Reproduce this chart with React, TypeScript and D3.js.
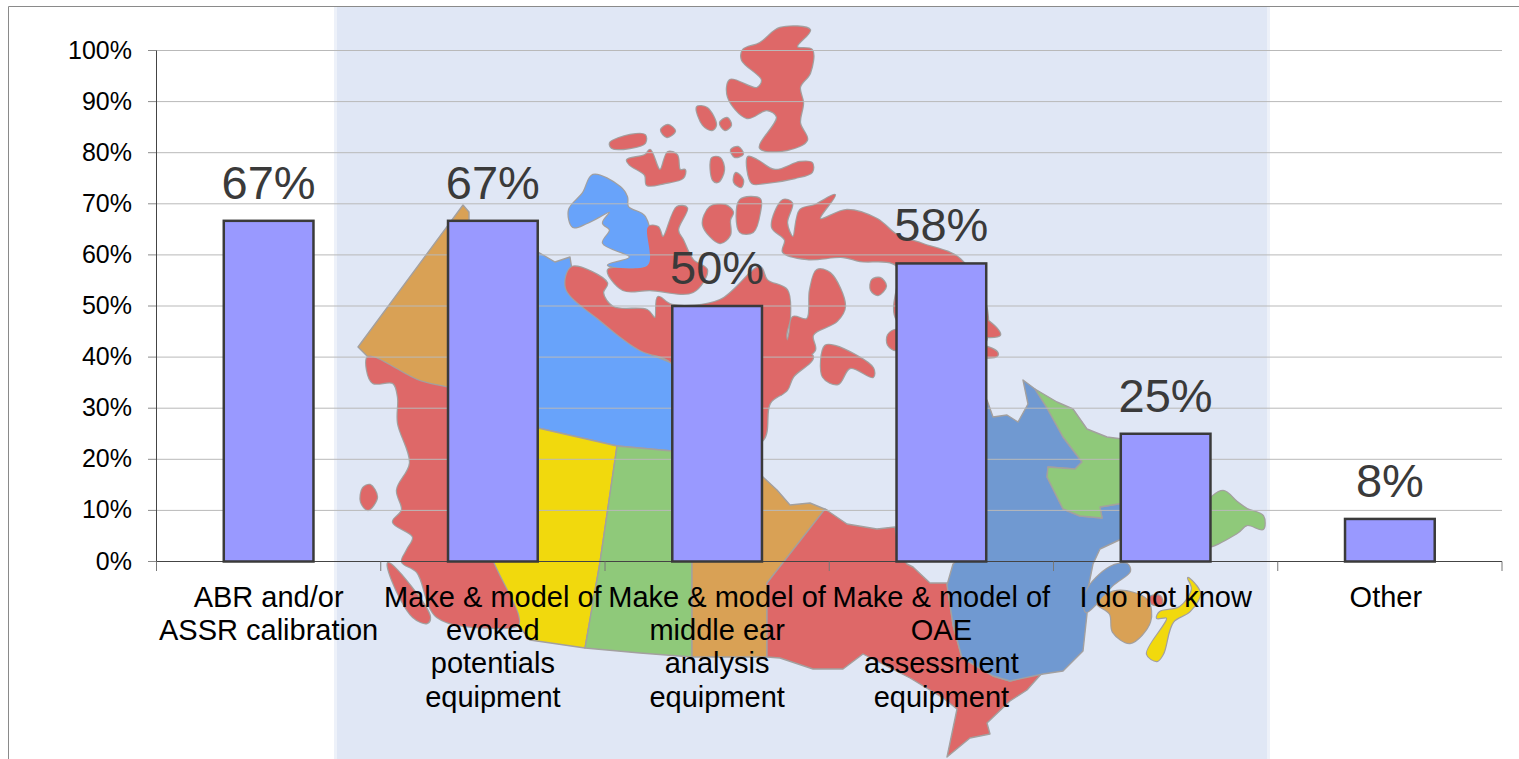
import React from "react";
import * as d3 from "d3";

const categories = [
  "ABR and/or|ASSR calibration",
  "Make & model of|evoked|potentials|equipment",
  "Make & model of|middle ear|analysis|equipment",
  "Make & model of|OAE|assessment|equipment",
  "I do not know",
  "Other",
];
const values = [66.67, 66.67, 50, 58.33, 25, 8.33];
const valueLabels = ["67%", "67%", "50%", "58%", "25%", "8%"];
const yTicks = [0, 10, 20, 30, 40, 50, 60, 70, 80, 90, 100];

type P = [number, number];
const RED = "#de6868", ORANGE = "#d9a155", BLUE = "#67a3fa", STEEL = "#7099d1", GREEN = "#8fc97a", YELLOW = "#f1d90f";

// decorative backdrop: provinces (straight borders) and islands (rounded outlines)
const provinces: { c: string; p: P[] }[] = [
  { c: ORANGE, p: [[463,205],[469,212],[470,400],[447,393],[417,380],[368,357],[358,347]] },
  { c: BLUE, p: [[480,230],[538,252],[555,262],[570,257],[572,270],[566,288],[600,320],[640,350],[672,363],[730,395],[730,455],[672,451],[617,446],[538,428],[480,410]] },
  { c: YELLOW, p: [[500,415],[538,428],[617,446],[600,562],[585,648],[530,640],[518,625],[518,615],[493,562],[490,530]] },
  { c: GREEN, p: [[617,446],[672,451],[710,455],[692,550],[692,657],[640,653],[585,648],[600,562]] },
  { c: ORANGE, p: [[720,460],[763,477],[777,490],[790,505],[810,503],[827,510],[767,583],[767,657],[692,657],[692,550]] },
  { c: RED, p: [[825,509],[847,524],[877,529],[895,527],[900,555],[907,564],[913,567],[930,583],[947,583],[953,625],[962,658],[993,676],[1010,681],[1043,672],[1027,690],[1010,701],[987,723],[990,734],[970,738],[947,757],[957,709],[943,698],[910,678],[863,654],[843,669],[813,669],[780,658],[767,657],[767,583]] },
  { c: STEEL, p: [[960,400],[987,400],[993,417],[1007,415],[1018,422],[1028,404],[1023,380],[1035,389],[1047,408],[1063,437],[1082,462],[1075,469],[1048,467],[1047,477],[1063,509],[1080,516],[1102,518],[1100,507],[1130,502],[1130,535],[1100,549],[1093,564],[1088,589],[1087,614],[1083,651],[1063,671],[1043,674],[1010,681],[993,676],[962,658],[953,625],[947,585],[953,564],[960,558]] },
  { c: GREEN, p: [[1035,389],[1057,402],[1073,409],[1087,429],[1107,437],[1130,440],[1130,502],[1100,507],[1102,518],[1080,516],[1063,509],[1047,477],[1048,467],[1075,469],[1082,462],[1063,437],[1047,408]] },
];
const islands: { c: string; p: P[] }[] = [
  { c: BLUE, p: [[593,175],[620,187],[627,197],[628,207],[645,217],[648,265],[608,265],[630,257],[603,243],[610,230],[603,223],[610,212],[587,223],[573,227],[569,210],[583,193]] },
  { c: RED, p: [[648,227],[658,227],[663,237],[677,207],[687,208],[678,230],[683,240],[693,260],[707,270],[693,292],[650,290],[623,290],[608,270],[648,265]] },
  { c: RED, p: [[572,267],[607,283],[603,293],[613,307],[647,310],[655,318],[658,297],[672,305],[720,300],[760,267],[767,280],[787,290],[790,317],[787,340],[813,357],[793,377],[787,390],[770,403],[763,440],[720,455],[672,363],[640,350],[600,320],[566,288]] },
  { c: RED, p: [[780,28],[810,30],[797,47],[812,50],[810,73],[800,87],[803,103],[800,123],[807,140],[787,150],[760,148],[777,117],[767,110],[747,118],[728,97],[730,80],[757,88],[762,80],[742,60],[743,50],[760,43]] },
  { c: RED, p: [[697,107],[707,108],[716,125],[712,130],[703,125]] },
  { c: RED, p: [[720,123],[727,118],[731,125],[725,130]] },
  { c: RED, p: [[661,130],[668,125],[675,131],[667,137]] },
  { c: RED, p: [[610,143],[630,135],[645,135],[645,143],[630,148],[612,148]] },
  { c: RED, p: [[627,160],[645,155],[650,150],[660,170],[668,152],[677,155],[680,170],[685,170],[683,178],[665,183],[647,185],[645,175],[630,165]] },
  { c: RED, p: [[712,158],[720,158],[724,170],[718,182],[713,180]] },
  { c: RED, p: [[731,150],[738,147],[743,154],[735,157]] },
  { c: RED, p: [[736,173],[743,180],[741,187],[734,182]] },
  { c: RED, p: [[748,157],[757,160],[775,170],[800,162],[812,163],[812,172],[795,178],[765,183],[752,183]] },
  { c: RED, p: [[710,207],[725,205],[733,212],[730,220],[730,235],[720,243],[703,225]] },
  { c: RED, p: [[740,200],[760,199],[760,212],[753,232],[740,232]] },
  { c: RED, p: [[772,227],[783,200],[792,203],[787,223],[793,237],[800,210],[815,205],[835,195],[820,219],[847,210],[877,219],[897,235],[923,244],[960,259],[987,310],[980,350],[897,320],[897,266],[860,261],[843,257],[807,259],[783,252],[785,240]] },
  { c: RED, p: [[817,270],[830,273],[845,306],[837,321],[813,335],[815,350],[800,362],[780,395],[770,370],[788,339],[793,317],[807,319],[810,290]] },
  { c: RED, p: [[825,346],[835,346],[873,368],[873,377],[850,368],[838,384],[823,377]] },
  { c: RED, p: [[872,280],[880,278],[886,286],[878,295],[871,290]] },
  { c: RED, p: [[896,330],[888,335],[888,345],[896,350]] },
  { c: RED, p: [[980,317],[998,330],[1000,335],[980,335]] },
  { c: RED, p: [[980,346],[997,352],[997,356],[980,356]] },
  { c: RED, p: [[368,357],[367,370],[373,383],[393,383],[398,397],[398,423],[410,463],[397,490],[402,510],[393,522],[413,537],[407,550],[402,562],[417,572],[437,617],[497,628],[518,625],[518,615],[493,562],[470,500],[470,400],[417,380]] },
  { c: RED, p: [[388,563],[397,570],[430,617],[427,623],[413,617],[392,580]] },
  { c: RED, p: [[370,485],[377,497],[368,510],[361,502],[363,488]] },
  { c: ORANGE, p: [[1097,603],[1117,591],[1147,600],[1150,622],[1130,643],[1113,632],[1110,614]] },
  { c: STEEL, p: [[1086,592],[1110,567],[1127,564],[1130,571],[1113,585],[1097,603],[1086,612]] },
  { c: RED, p: [[1150,597],[1160,596],[1162,604],[1152,604]] },
  { c: YELLOW, p: [[1188,578],[1200,593],[1190,611],[1173,622],[1163,654],[1157,661],[1147,654],[1167,618],[1157,618],[1160,612],[1180,607],[1192,589]] },
  { c: GREEN, p: [[1205,506],[1223,491],[1237,502],[1247,509],[1263,516],[1263,529],[1247,525],[1237,533],[1205,546]] },
];

const straight = d3.line().curve(d3.curveLinearClosed);
const round = d3.line().curve(d3.curveCatmullRomClosed.alpha(0.5));

const W = 1519, H = 759;
const x = d3.scaleBand().domain(categories).range([156.5, 1502]).paddingInner(0.6).paddingOuter(0.3);
const y = d3.scaleLinear().domain([0, 100]).range([561.5, 50.5]);
const step = x.step();
const font = "'Liberation Sans', Arial, sans-serif";

export default function App() {
  return (
    <svg width={W} height={H} viewBox={`0 0 ${W} ${H}`} style={{ position: "absolute", left: 0, top: 0, background: "#fff" }} fontFamily={font}>
      <defs>
        <filter id="soft" x="0" y="0" width="100%" height="100%" filterUnits="userSpaceOnUse" primitiveUnits="userSpaceOnUse">
          <feGaussianBlur stdDeviation={0.6} />
        </filter>
      </defs>
      <rect x={334} y={7} width={936} height={752} fill="#e0e7f5" />
      <rect x={334} y={7} width={3} height={752} fill="#edf1f9" />
      <rect x={1267} y={7} width={3} height={752} fill="#edf1f9" />
      <path d="M8.5 759V6.5H1519" fill="none" stroke="#8a8a8a" strokeWidth={1} />

      <g filter="url(#soft)">
        <g stroke="#a3a09f" strokeWidth={1.4} strokeLinejoin="round">
          {provinces.map((s, i) => <path key={i} d={straight(s.p) as string} fill={s.c} />)}
        </g>
        <g stroke="#a3a09f" strokeWidth={2.4} strokeLinejoin="round" fill="none">
          {islands.map((s, i) => <path key={i} d={round(s.p) as string} />)}
        </g>
        {islands.map((s, i) => <path key={i} d={round(s.p) as string} fill={s.c} />)}
      </g>

      {yTicks.map((t) => (
        <g key={t}>
          <line x1={156.5} x2={1502} y1={y(t)} y2={y(t)} stroke="#b9b9b9" strokeWidth={1} />
          <line x1={148} x2={156.5} y1={y(t)} y2={y(t)} stroke="#8a8a8a" strokeWidth={1} />
          <text x={132} y={y(t) + 8} textAnchor="end" fontSize={25} fill="#000">{t}%</text>
        </g>
      ))}
      <line x1={156.5} x2={156.5} y1={50.5} y2={561.5} stroke="#444" />
      <line x1={156.5} x2={1502} y1={561.5} y2={561.5} stroke="#444" />
      {d3.range(categories.length + 1).map((i) => {
        const tx = 156.5 + i * step;
        return <line key={i} x1={tx} x2={tx} y1={561.5} y2={571} stroke="#777" />;
      })}

      {categories.map((c, i) => {
        const bx = x(c) as number;
        const bw = x.bandwidth();
        const cx = bx + bw / 2;
        const labelX = i === categories.length - 1 ? cx - 4 : cx;
        return (
          <g key={c}>
            <rect x={bx} y={y(values[i])} width={bw} height={y(0) - y(values[i])} fill="#9999ff" stroke="#3a3a3a" strokeWidth={2.5} />
            <text x={cx} y={y(values[i]) - 22} textAnchor="middle" fontSize={47} fill="#3a3a3a">{valueLabels[i]}</text>
            {c.split("|").map((l, j) => (
              <text key={j} x={labelX} y={607 + j * 33.2} textAnchor="middle" fontSize={29} fill="#000">{l}</text>
            ))}
          </g>
        );
      })}
    </svg>
  );
}
